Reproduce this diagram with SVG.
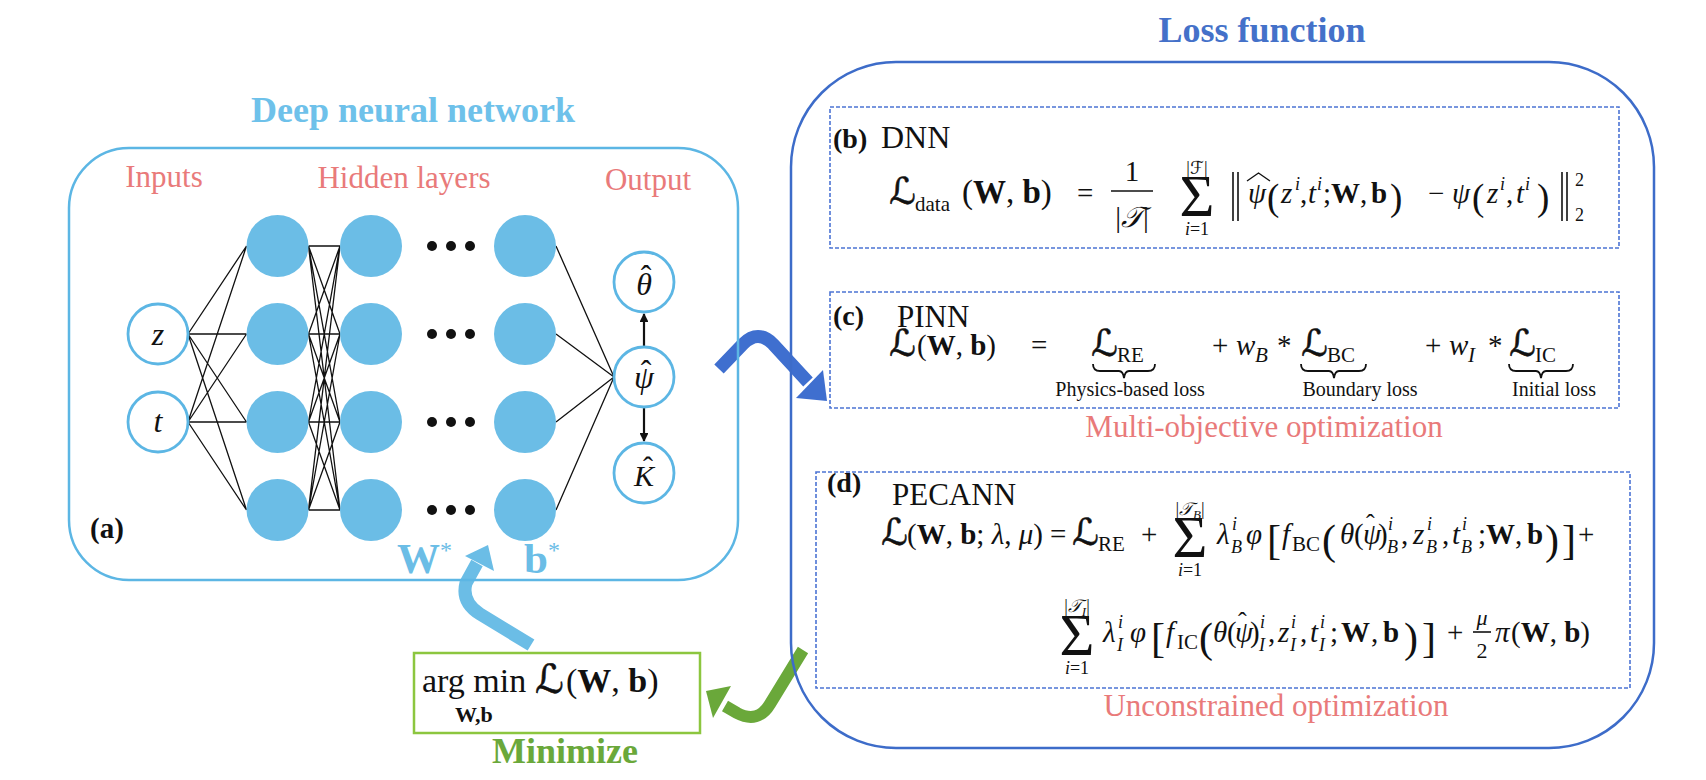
<svg xmlns="http://www.w3.org/2000/svg" width="1706" height="780" viewBox="0 0 1706 780">
<defs>
<style>
.t{font-family:"Liberation Serif","Times New Roman",serif;fill:#111}
.lbl{font-size:31px;fill:#e97a7a}
.m{font-size:29px}
.i{font-style:italic}
.n{font-style:normal}
.b{font-weight:bold}
.s{font-family:"DejaVu Serif","DejaVu Sans",serif;font-size:37px;font-style:normal;stroke:#111;stroke-width:0.6}
.cal{font-family:"DejaVu Serif","DejaVu Sans","Noto Sans",serif}
.sub{font-size:21px}
.sm{font-size:18px}
.big{font-size:37px}
.bk{font-size:42px}
.sig{font-size:60px}
.mid{text-anchor:middle}
.hid{fill:#6bbde6}
.io{fill:#fff;stroke:#5cb6e4;stroke-width:2.8}
.dash{fill:none;stroke:#4c74d4;stroke-width:1.6;stroke-dasharray:4 2}
.brace{fill:none;stroke:#111;stroke-width:1.8}
.bar{stroke:#111;stroke-width:1.6}
</style>
<marker id="ah" viewBox="0 0 10 10" refX="9" refY="5" markerWidth="4" markerHeight="4" orient="auto" markerUnits="strokeWidth">
<path d="M0,0 L10,5 L0,10 z" fill="#111"/>
</marker>
</defs>
<rect width="1706" height="780" fill="#fff"/>

<g id="connectors">
<path fill="none" stroke="#111" stroke-width="1.3" d="
M188,334 L246.5,246 M188,334 L246.5,334 M188,334 L246.5,422 M188,334 L246.5,510
M188,422 L246.5,246 M188,422 L246.5,334 M188,422 L246.5,422 M188,422 L246.5,510
M308.5,246 L340,246 M308.5,246 L340,334 M308.5,246 L340,422 M308.5,246 L340,510
M308.5,334 L340,246 M308.5,334 L340,334 M308.5,334 L340,422 M308.5,334 L340,510
M308.5,422 L340,246 M308.5,422 L340,334 M308.5,422 L340,422 M308.5,422 L340,510
M308.5,510 L340,246 M308.5,510 L340,334 M308.5,510 L340,422 M308.5,510 L340,510
M556,246 L614,377 M556,334 L614,377 M556,422 L614,377 M556,510 L614,377"/>
<line x1="644" y1="347" x2="644" y2="314" stroke="#111" stroke-width="2.2" marker-end="url(#ah)"/>
<line x1="644" y1="407" x2="644" y2="441" stroke="#111" stroke-width="2.2" marker-end="url(#ah)"/>
<g id="arrow-to-loss">
<path d="M719,369 L743,344 Q758,329 773,344 L808,382" fill="none" stroke="#3f6fcf" stroke-width="13"/>
<polygon points="796,398 823,370 827,401" fill="#3f6fcf"/>
</g>
<g id="arrow-to-minimize">
<path d="M803,650 L770,704 Q758,724 737,713 L725,706" fill="none" stroke="#6aa83a" stroke-width="12"/>
<polygon points="706,691 731,686 713,718" fill="#6aa83a"/>
</g>
<g id="arrow-to-weights">
<path d="M531,645 L480,614 Q461,602 466,583 L477,563" fill="none" stroke="#6bbde6" stroke-width="13"/>
<polygon points="465,556 488,545 494,571" fill="#6bbde6"/>
</g>
</g>

<g id="dnn-panel">
<rect x="69" y="148" width="669" height="432" rx="60" fill="none" stroke="#5cb6e4" stroke-width="2.5"/>
<text class="t b mid" x="413" y="122" font-size="36" style="fill:#6ec1ea">Deep neural network</text>
<text class="t lbl mid" x="164" y="187">Inputs</text>
<text class="t lbl mid" x="404" y="188">Hidden layers</text>
<text class="t lbl mid" x="648" y="190">Output</text>
<text class="t b" x="90" y="538" font-size="29">(a)</text>
</g>

<g id="input-z"><circle class="io" cx="158" cy="334" r="30"/><text class="t i mid" x="158" y="345" font-size="32">z</text></g>
<g id="input-t"><circle class="io" cx="158" cy="422" r="30"/><text class="t i mid" x="158" y="432" font-size="32">t</text></g>

<g id="hidden-layer-1">
<circle class="hid" cx="277.5" cy="246" r="31"/><circle class="hid" cx="277.5" cy="334" r="31"/>
<circle class="hid" cx="277.5" cy="422" r="31"/><circle class="hid" cx="277.5" cy="510" r="31"/>
</g>
<g id="hidden-layer-2">
<circle class="hid" cx="371" cy="246" r="31"/><circle class="hid" cx="371" cy="334" r="31"/>
<circle class="hid" cx="371" cy="422" r="31"/><circle class="hid" cx="371" cy="510" r="31"/>
</g>
<g id="ellipsis" fill="#111">
<circle cx="432" cy="246" r="5"/><circle cx="451" cy="246" r="5"/><circle cx="470" cy="246" r="5"/>
<circle cx="432" cy="334" r="5"/><circle cx="451" cy="334" r="5"/><circle cx="470" cy="334" r="5"/>
<circle cx="432" cy="422" r="5"/><circle cx="451" cy="422" r="5"/><circle cx="470" cy="422" r="5"/>
<circle cx="432" cy="510" r="5"/><circle cx="451" cy="510" r="5"/><circle cx="470" cy="510" r="5"/>
</g>
<g id="hidden-layer-n">
<circle class="hid" cx="525" cy="246" r="31"/><circle class="hid" cx="525" cy="334" r="31"/>
<circle class="hid" cx="525" cy="422" r="31"/><circle class="hid" cx="525" cy="510" r="31"/>
</g>
<g id="output-theta"><circle class="io" cx="644" cy="282" r="30"/><text class="t i mid" x="644" y="295" font-size="32">θ<tspan class="n" x="646" y="287">ˆ</tspan></text></g>
<g id="output-psi"><circle class="io" cx="644" cy="377" r="30"/><text class="t i mid" x="644" y="388" font-size="32">ψ<tspan class="n" x="646" y="382">ˆ</tspan></text></g>
<g id="output-K"><circle class="io" cx="644" cy="473" r="30"/><text class="t i mid" x="644" y="486" font-size="30">K<tspan class="n" x="648" y="477">ˆ</tspan></text></g>

<g id="weights-label">
<text class="t b" x="397" y="573" font-size="43" style="fill:#6bbde6">W<tspan class="n" x="440" y="558" style="font-weight:normal;font-size:24px">*</tspan></text>
<text class="t b" x="524" y="573" font-size="43" style="fill:#6bbde6">b<tspan x="548" y="558" style="font-weight:normal;font-size:24px">*</tspan></text>
</g>

<g id="minimize">
<rect x="414" y="653" width="286" height="80" fill="none" stroke="#8cc63f" stroke-width="2.5"/>
<text class="t" font-size="34"><tspan x="422" y="692">arg min</tspan><tspan class="s" x="535" y="693" style="font-size:40px">ℒ</tspan><tspan x="566" y="692">(<tspan class="b">W</tspan>, <tspan class="b">b</tspan>)</tspan><tspan class="b" x="455" y="722" style="font-size:22px">W,b</tspan></text>
<text class="t b mid" x="565" y="763" font-size="36" style="fill:#6aa83a">Minimize</text>
</g>

<g id="loss-panel">
<rect x="791" y="62" width="863" height="686" rx="105" fill="none" stroke="#3d6cc9" stroke-width="2.5"/>
<text class="t b mid" x="1262" y="42" font-size="36" style="fill:#4471c9">Loss function</text>
<text class="t lbl mid" x="1264" y="437">Multi-objective optimization</text>
<text class="t lbl mid" x="1276" y="716">Unconstrained optimization</text>
</g>

<g id="dnn-loss">
<rect class="dash" x="830" y="107" width="789" height="141"/>
<text class="t b" x="833" y="148" font-size="28">(b)</text>
<text class="t" x="881" y="148" font-size="32">DNN</text>
<text class="t m"><tspan class="s" x="889" y="204">ℒ</tspan><tspan class="sub" x="915" y="211">data</tspan><tspan x="962" y="203" style="font-size:33px">(<tspan class="b">W</tspan>, <tspan class="b">b</tspan>)</tspan><tspan x="1077" y="203">=</tspan><tspan x="1132" y="181" style="text-anchor:middle">1</tspan><tspan x="1132" y="227" style="text-anchor:middle">|<tspan class="cal i">𝒯</tspan>|</tspan><tspan class="sm" x="1197" y="174" style="text-anchor:middle">|<tspan class="cal">ℱ</tspan>|</tspan><tspan class="sig" x="1197" y="216" style="text-anchor:middle">Σ</tspan><tspan class="sm" x="1197" y="235" style="text-anchor:middle"><tspan class="i">i</tspan>=1</tspan><tspan class="i" x="1248" y="203">ψ</tspan><tspan class="big" x="1267" y="210">(</tspan><tspan class="i" x="1281" y="203">z</tspan><tspan class="sm i" x="1295" y="190">i</tspan><tspan x="1300" y="203">,</tspan><tspan class="i" x="1308" y="203">t</tspan><tspan class="sm i" x="1317" y="190">i</tspan><tspan x="1323" y="203">;</tspan><tspan class="b" x="1331" y="203">W</tspan><tspan x="1360" y="203">,</tspan><tspan class="b" x="1371" y="203">b</tspan><tspan class="big" x="1390" y="210">)</tspan><tspan x="1428" y="203">−</tspan><tspan class="i" x="1452" y="203">ψ</tspan><tspan class="big" x="1472" y="210">(</tspan><tspan class="i" x="1487" y="203">z</tspan><tspan class="sm i" x="1500" y="190">i</tspan><tspan x="1506" y="203">,</tspan><tspan class="i" x="1516" y="203">t</tspan><tspan class="sm i" x="1525" y="190">i</tspan><tspan class="big" x="1537" y="210">)</tspan><tspan class="sm" x="1575" y="186">2</tspan><tspan class="sm" x="1575" y="221">2</tspan></text>
<line class="bar" x1="1111" y1="191" x2="1153" y2="191"/>
<line class="bar" x1="1233" y1="172" x2="1233" y2="221"/><line class="bar" x1="1238" y1="172" x2="1238" y2="221"/>
<path d="M1247,181 L1258.5,173 L1270,181" fill="none" stroke="#111" stroke-width="1.4"/>
<line class="bar" x1="1562" y1="172" x2="1562" y2="221"/><line class="bar" x1="1567" y1="172" x2="1567" y2="221"/>
</g>

<g id="pinn-loss">
<rect class="dash" x="830" y="292" width="789" height="116"/>
<text class="t b" x="833" y="325" font-size="28">(c)</text>
<text class="t" x="897" y="327" font-size="31">PINN</text>
<text class="t m"><tspan class="s" x="889" y="356">ℒ</tspan><tspan x="917" y="355">(<tspan class="b">W</tspan>, <tspan class="b">b</tspan>)</tspan><tspan x="1031" y="355">=</tspan><tspan class="s" x="1091" y="356">ℒ</tspan><tspan class="sub" x="1117" y="362">RE</tspan><tspan x="1212" y="355">+</tspan><tspan class="i" x="1236" y="355">w</tspan><tspan class="sub i" x="1255" y="362">B</tspan><tspan x="1277" y="355">*</tspan><tspan class="s" x="1301" y="356">ℒ</tspan><tspan class="sub" x="1327" y="362">BC</tspan><tspan x="1425" y="355">+</tspan><tspan class="i" x="1449" y="355">w</tspan><tspan class="sub i" x="1468" y="362">I</tspan><tspan x="1488" y="355">*</tspan><tspan class="s" x="1509" y="356">ℒ</tspan><tspan class="sub" x="1535" y="362">IC</tspan></text>
<path class="brace" d="M1093,364 Q1093,371 1100,371 L1119,371 Q1123,371 1124,378 Q1125,371 1129,371 L1148,371 Q1155,371 1155,364"/>
<path class="brace" d="M1301,364 Q1301,371 1308,371 L1329,371 Q1333,371 1334,378 Q1335,371 1339,371 L1359,371 Q1366,371 1366,364"/>
<path class="brace" d="M1509,364 Q1509,371 1516,371 L1536,371 Q1540,371 1541,378 Q1542,371 1546,371 L1566,371 Q1573,371 1573,364"/>
<text class="t mid" x="1130" y="396" font-size="20">Physics-based loss</text>
<text class="t mid" x="1360" y="396" font-size="20">Boundary loss</text>
<text class="t mid" x="1554" y="396" font-size="20">Initial loss</text>
</g>

<g id="pecann-loss">
<rect class="dash" x="816" y="472" width="814" height="216"/>
<text class="t b" x="827" y="492" font-size="28">(d)</text>
<text class="t" x="892" y="505" font-size="31">PECANN</text>
<text class="t m"><tspan class="s" x="881" y="545">ℒ</tspan><tspan x="907" y="544">(<tspan class="b">W</tspan>, <tspan class="b">b</tspan>; <tspan class="i">λ</tspan>, <tspan class="i">μ</tspan>)</tspan><tspan x="1050" y="544">=</tspan><tspan class="s" x="1072" y="545">ℒ</tspan><tspan class="sub" x="1098" y="551">RE</tspan><tspan x="1141" y="544">+</tspan><tspan class="sm" x="1190" y="515" style="text-anchor:middle">|<tspan class="cal i">𝒯</tspan><tspan class="i" dy="4" style="font-size:13px">B</tspan><tspan dy="-4">|</tspan></tspan><tspan class="sig" x="1190" y="557" style="text-anchor:middle">Σ</tspan><tspan class="sm" x="1190" y="576" style="text-anchor:middle"><tspan class="i">i</tspan>=1</tspan><tspan class="i" x="1217" y="544">λ</tspan><tspan class="sm i" x="1232" y="530">i</tspan><tspan class="sm i" x="1231" y="553">B</tspan><tspan class="i" x="1246" y="544">φ</tspan><tspan class="bk" x="1267" y="554">[</tspan><tspan class="i" x="1282" y="544">f</tspan><tspan class="sub" x="1292" y="551">BC</tspan><tspan class="bk" x="1322" y="554">(</tspan><tspan class="i" x="1340" y="544">θ</tspan><tspan x="1354" y="544">(</tspan><tspan class="i" x="1363" y="544">ψ</tspan><tspan class="n" x="1366" y="532" style="font-size:26px">ˆ</tspan><tspan x="1378" y="544">)</tspan><tspan class="sm i" x="1388" y="530">i</tspan><tspan class="sm i" x="1387" y="553">B</tspan><tspan x="1401" y="544">,</tspan><tspan class="i" x="1413" y="544">z</tspan><tspan class="sm i" x="1427" y="530">i</tspan><tspan class="sm i" x="1426" y="553">B</tspan><tspan x="1442" y="544">,</tspan><tspan class="i" x="1452" y="544">t</tspan><tspan class="sm i" x="1462" y="530">i</tspan><tspan class="sm i" x="1461" y="553">B</tspan><tspan x="1478" y="544">;</tspan><tspan class="b" x="1486" y="544">W</tspan><tspan x="1515" y="544">,</tspan><tspan class="b" x="1527" y="544">b</tspan><tspan class="bk" x="1545" y="554">)</tspan><tspan class="bk" x="1562" y="554">]</tspan><tspan x="1578" y="544">+</tspan></text>
<text class="t m"><tspan class="sm" x="1077" y="612" style="text-anchor:middle">|<tspan class="cal i">𝒯</tspan><tspan class="i" dy="4" style="font-size:13px">I</tspan><tspan dy="-4">|</tspan></tspan><tspan class="sig" x="1077" y="655" style="text-anchor:middle">Σ</tspan><tspan class="sm" x="1077" y="674" style="text-anchor:middle"><tspan class="i">i</tspan>=1</tspan><tspan class="i" x="1103" y="642">λ</tspan><tspan class="sm i" x="1118" y="628">i</tspan><tspan class="sm i" x="1117" y="651">I</tspan><tspan class="i" x="1130" y="642">φ</tspan><tspan class="bk" x="1151" y="652">[</tspan><tspan class="i" x="1166" y="642">f</tspan><tspan class="sub" x="1177" y="649">IC</tspan><tspan class="bk" x="1199" y="652">(</tspan><tspan class="i" x="1213" y="642">θ</tspan><tspan x="1227" y="642">(</tspan><tspan class="i" x="1235" y="642">ψ</tspan><tspan class="n" x="1238" y="630" style="font-size:26px">ˆ</tspan><tspan x="1250" y="642">)</tspan><tspan class="sm i" x="1260" y="628">i</tspan><tspan class="sm i" x="1259" y="651">I</tspan><tspan x="1268" y="642">,</tspan><tspan class="i" x="1278" y="642">z</tspan><tspan class="sm i" x="1291" y="628">i</tspan><tspan class="sm i" x="1290" y="651">I</tspan><tspan x="1300" y="642">,</tspan><tspan class="i" x="1310" y="642">t</tspan><tspan class="sm i" x="1320" y="628">i</tspan><tspan class="sm i" x="1319" y="651">I</tspan><tspan x="1330" y="642">;</tspan><tspan class="b" x="1341" y="642">W</tspan><tspan x="1371" y="642">,</tspan><tspan class="b" x="1383" y="642">b</tspan><tspan class="bk" x="1404" y="652">)</tspan><tspan class="bk" x="1422" y="652">]</tspan><tspan x="1447" y="642">+</tspan><tspan class="i" x="1482" y="625" style="font-size:22px;text-anchor:middle">μ</tspan><tspan x="1482" y="658" style="font-size:22px;text-anchor:middle">2</tspan><tspan class="i" x="1495" y="642">π</tspan><tspan x="1511" y="642">(<tspan class="b">W</tspan>, <tspan class="b">b</tspan>)</tspan></text>
<line class="bar" x1="1473" y1="632" x2="1491" y2="632"/>
</g>
</svg>
